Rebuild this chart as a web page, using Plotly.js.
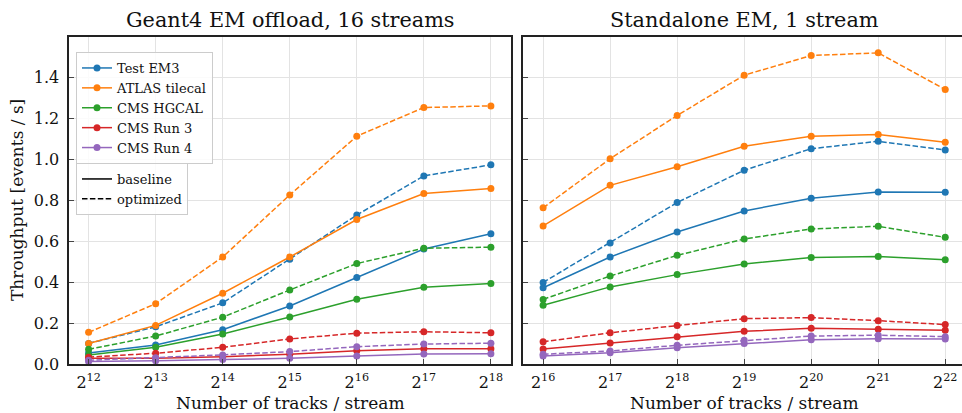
<!DOCTYPE html>
<html>
<head>
<meta charset="utf-8">
<script src="https://cdn.plot.ly/plotly-3.0.1.min.js"></script>
<style>html,body{margin:0;padding:0;background:#fff;}#chart{width:962px;height:413px;}</style>
</head>
<body>
<div id="chart"></div>
<script>
// ---- data ----
const seriesNames = ["Test EM3", "ATLAS tilecal", "CMS HGCAL", "CMS Run 3", "CMS Run 4"];
const seriesColors = ["#1f77b4", "#ff7f0e", "#2ca02c", "#d62728", "#9467bd"];

// Left panel: Geant4 EM offload, 16 streams (x = 2^12 .. 2^18)
const leftExp = [12, 13, 14, 15, 16, 17, 18];
const leftBaseline = [
  [0.055, 0.094, 0.169, 0.285, 0.424, 0.563, 0.638],   // Test EM3
  [0.102, 0.190, 0.347, 0.524, 0.707, 0.834, 0.858],   // ATLAS tilecal
  [0.046, 0.083, 0.148, 0.231, 0.318, 0.376, 0.394],   // CMS HGCAL
  [0.030, 0.029, 0.037, 0.049, 0.066, 0.076, 0.076],   // CMS Run 3
  [0.014, 0.017, 0.024, 0.029, 0.041, 0.050, 0.052]    // CMS Run 4
];
const leftOptimized = [
  [0.102, 0.183, 0.300, 0.513, 0.729, 0.920, 0.974],
  [0.156, 0.296, 0.524, 0.827, 1.114, 1.254, 1.262],
  [0.073, 0.138, 0.230, 0.363, 0.492, 0.567, 0.572],
  [0.035, 0.054, 0.083, 0.124, 0.152, 0.159, 0.154],
  [0.020, 0.032, 0.046, 0.062, 0.086, 0.099, 0.103]
];

// Right panel: Standalone EM, 1 stream (x = 2^16 .. 2^22)
const rightExp = [16, 17, 18, 19, 20, 21, 22];
const rightBaseline = [
  [0.374, 0.524, 0.646, 0.749, 0.811, 0.842, 0.840],
  [0.676, 0.874, 0.965, 1.065, 1.114, 1.122, 1.084],
  [0.288, 0.378, 0.438, 0.490, 0.521, 0.526, 0.511],
  [0.075, 0.104, 0.135, 0.161, 0.176, 0.171, 0.166],
  [0.041, 0.057, 0.081, 0.102, 0.120, 0.125, 0.124]
];
const rightOptimized = [
  [0.400, 0.593, 0.790, 0.948, 1.053, 1.089, 1.047],
  [0.764, 1.004, 1.215, 1.412, 1.508, 1.521, 1.342],
  [0.317, 0.431, 0.532, 0.612, 0.661, 0.674, 0.620],
  [0.110, 0.154, 0.189, 0.223, 0.228, 0.213, 0.194],
  [0.049, 0.065, 0.093, 0.117, 0.138, 0.142, 0.135]
];

const yTickVals = [0, 0.2, 0.4, 0.6, 0.8, 1.0, 1.2, 1.4];
const yTickText = ["0.0", "0.2", "0.4", "0.6", "0.8", "1.0", "1.2", "1.4"];
const leftTickText = leftExp.map(e => "2<sup>" + e + "</sup>");
const rightTickText = rightExp.map(e => "2<sup>" + e + "</sup>");

// ---- build ----
const FONT = "DejaVu Serif";
const leftX = leftExp.map(e => Math.pow(2, e));
const rightX = rightExp.map(e => Math.pow(2, e));
const DASH = "5.5px,2.4px";

const traces = [];
function addPanel(xs, base, opt, xa, ya, showLeg) {
  for (let i = 0; i < seriesNames.length; i++) {
    traces.push({
      x: xs, y: base[i], xaxis: xa, yaxis: ya, type: "scatter", mode: "lines+markers",
      name: seriesNames[i], legendgroup: seriesNames[i], showlegend: showLeg, legend: "legend",
      line: {color: seriesColors[i], width: 1.5},
      marker: {color: seriesColors[i], size: 7}
    });
    traces.push({
      x: xs, y: opt[i], xaxis: xa, yaxis: ya, type: "scatter", mode: "lines+markers",
      name: seriesNames[i] + " (optimized)", showlegend: false,
      line: {color: seriesColors[i], width: 1.5, dash: DASH},
      marker: {color: seriesColors[i], size: 7}
    });
  }
}
addPanel(leftX, leftBaseline, leftOptimized, "x", "y", true);
addPanel(rightX, rightBaseline, rightOptimized, "x2", "y2", false);

// line-style legend entries
traces.push({x: [null], y: [null], type: "scatter", mode: "lines", name: "baseline",
  line: {color: "#000", width: 1.5}, legend: "legend2", showlegend: true, xaxis: "x", yaxis: "y"});
traces.push({x: [null], y: [null], type: "scatter", mode: "lines", name: "optimized",
  line: {color: "#000", width: 1.5, dash: DASH}, legend: "legend2", showlegend: true, xaxis: "x", yaxis: "y"});

const W = 962, H = 413;
const yDom = [(H - 364.3) / H, (H - 37.3) / H];
const L2 = Math.log10(2);

const axCommon = {
  showgrid: true, gridcolor: "#e3e3e3", gridwidth: 1,
  showline: true, linecolor: "#222", linewidth: 2,
  ticks: "inside", ticklen: 5, tickcolor: "#444", tickwidth: 1,
  zeroline: false, tickfont: {family: FONT, size: 16, color: "#111"}
};

const layout = {
  width: W, height: H,
  margin: {l: 0, r: 0, t: 0, b: 0},
  paper_bgcolor: "#fff", plot_bgcolor: "#fff",
  font: {family: FONT, color: "#111"},
  xaxis: Object.assign({}, axCommon, {
    type: "log", domain: [68.5 / W, 511 / W], anchor: "y", mirror: true,
    range: [11.7 * L2, 18.3 * L2], tickvals: leftX, ticktext: leftTickText, ticklabelstandoff: 2
  }),
  yaxis: Object.assign({}, axCommon, {
    domain: yDom, anchor: "x", mirror: true, range: [0, 1.597],
    tickvals: yTickVals, ticktext: yTickText, ticklabelstandoff: 4
  }),
  xaxis2: Object.assign({}, axCommon, {
    type: "log", domain: [523 / W, 1], anchor: "y2", mirror: true,
    range: [15.7 * L2, 22.25 * L2], tickvals: rightX, ticktext: rightTickText, ticklabelstandoff: 2
  }),
  yaxis2: Object.assign({}, axCommon, {
    domain: yDom, anchor: "x2", mirror: false, range: [0, 1.597],
    tickvals: yTickVals, showticklabels: false
  }),
  legend: {
    x: 76 / W, y: (H - 52) / H, xanchor: "left", yanchor: "top",
    bgcolor: "rgba(255,255,255,0.85)", bordercolor: "#cccccc", borderwidth: 1,
    font: {family: FONT, size: 13, color: "#111"}, tracegroupgap: 0, itemwidth: 30
  },
  legend2: {
    x: 76 / W, y: (H - 163) / H, xanchor: "left", yanchor: "top",
    bgcolor: "rgba(255,255,255,0.85)", bordercolor: "#cccccc", borderwidth: 1,
    font: {family: FONT, size: 13, color: "#111"}, itemwidth: 30
  },
  annotations: [
    {text: "Geant4 EM offload, 16 streams", xref: "paper", yref: "paper",
     x: 290 / W, y: (H - 20) / H, xanchor: "center", yanchor: "middle", showarrow: false,
     font: {family: FONT, size: 20.8, color: "#111"}},
    {text: "Standalone EM, 1 stream", xref: "paper", yref: "paper",
     x: 744 / W, y: (H - 20) / H, xanchor: "center", yanchor: "middle", showarrow: false,
     font: {family: FONT, size: 20.8, color: "#111"}},
    {text: "Number of tracks / stream", xref: "paper", yref: "paper",
     x: 290 / W, y: (H - 403) / H, xanchor: "center", yanchor: "middle", showarrow: false,
     font: {family: FONT, size: 17, color: "#111"}},
    {text: "Number of tracks / stream", xref: "paper", yref: "paper",
     x: 744 / W, y: (H - 403) / H, xanchor: "center", yanchor: "middle", showarrow: false,
     font: {family: FONT, size: 17, color: "#111"}},
    {text: "Throughput [events / s]", xref: "paper", yref: "paper", textangle: -90,
     x: 17 / W, y: (H - 200) / H, xanchor: "center", yanchor: "middle", showarrow: false,
     font: {family: FONT, size: 17, color: "#111"}}
  ]
};

Plotly.newPlot("chart", traces, layout, {displayModeBar: false, staticPlot: true});
</script>
</body>
</html>
